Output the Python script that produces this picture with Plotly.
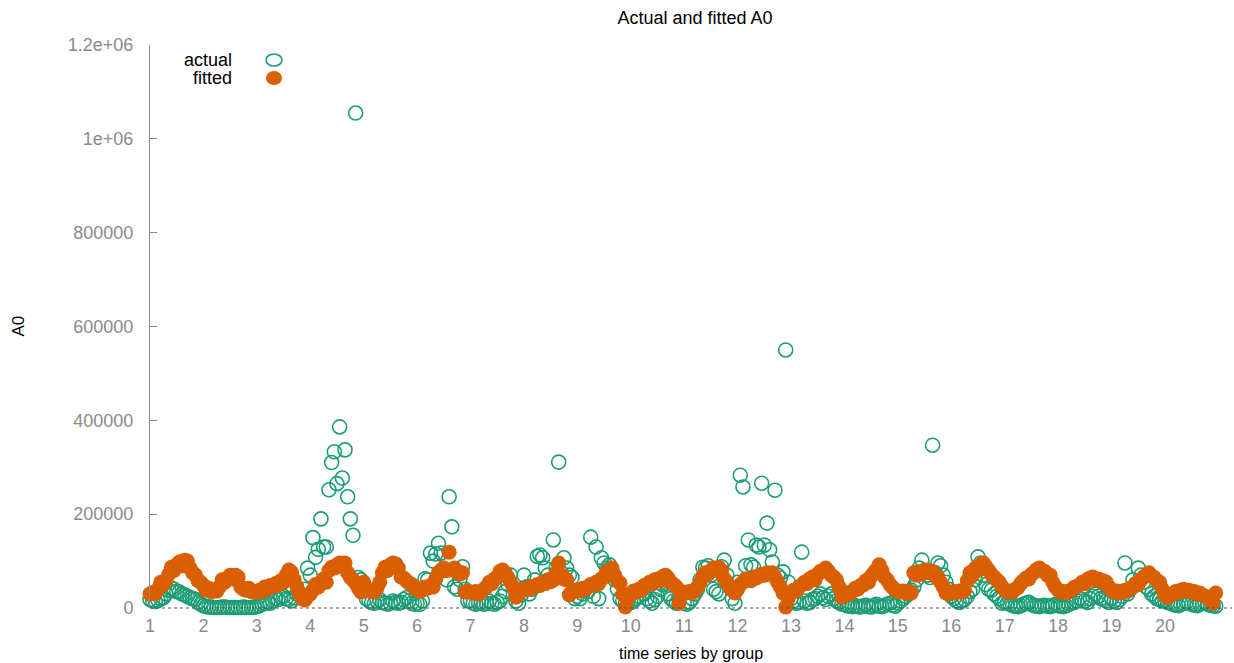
import plotly.graph_objects as go

# ---- data (values in thousands) ----
groups = list(range(1, 21))
points_per_group = 20

actual = [
    [18, 15, 14, 16, 20, 22, 30, 38, 42, 40, 35, 34, 30, 28, 25, 22, 20, 18, 12, 8],
    [5, 3, 2, 2, 1, 1, 1, 2, 2, 1, 1, 1, 1, 1, 1, 2, 1, 1, 1, 2],
    [3, 5, 8, 10, 12, 10, 15, 20, 18, 23, 25, 20, 18, 15, 22, 30, 32, 25, 40, 85],
    [70, 150, 108, 125, 190, 130, 130, 252, 310, 333, 265, 386, 277, 337, 237, 190, 155, 1055, 65, 60],
    [50, 20, 15, 12, 10, 15, 18, 12, 10, 8, 10, 15, 12, 10, 12, 18, 22, 15, 10, 8],
    [10, 8, 15, 62, 60, 117, 100, 115, 138, 117, 80, 60, 237, 173, 45, 40, 60, 88, 40, 15],
    [15, 10, 8, 10, 12, 8, 10, 15, 10, 8, 12, 15, 25, 35, 50, 70, 30, 15, 10, 28],
    [70, 45, 30, 40, 60, 110, 113, 107, 85, 70, 60, 145, 85, 311, 75, 107, 85, 70, 65, 20],
    [25, 20, 30, 40, 35, 151, 25, 130, 20, 107, 96, 85, 92, 70, 60, 40, 20, 15, 10, 12],
    [12, 15, 20, 25, 38, 30, 20, 15, 10, 18, 25, 40, 49, 53, 30, 20, 15, 10, 20, 30],
    [10, 8, 12, 20, 30, 40, 60, 87, 85, 90, 70, 40, 35, 30, 88, 102, 70, 45, 20, 10],
    [55, 283, 258, 90, 145, 92, 87, 134, 130, 266, 134, 181, 124, 98, 251, 70, 64, 77, 550, 55],
    [20, 15, 10, 12, 119, 15, 10, 12, 18, 20, 25, 30, 22, 18, 25, 30, 20, 15, 12, 8],
    [8, 5, 4, 3, 5, 3, 2, 4, 6, 3, 2, 5, 8, 4, 3, 5, 8, 10, 6, 4],
    [10, 15, 20, 25, 30, 38, 45, 60, 85, 102, 80, 70, 65, 347, 75, 96, 90, 70, 55, 40],
    [25, 20, 15, 12, 15, 18, 25, 35, 40, 60, 109, 96, 70, 50, 40, 38, 30, 25, 20, 10],
    [12, 10, 8, 5, 4, 3, 5, 8, 10, 12, 8, 5, 4, 3, 5, 6, 4, 3, 5, 8],
    [5, 4, 3, 5, 8, 10, 12, 15, 20, 18, 15, 12, 20, 25, 30, 25, 20, 18, 15, 12],
    [20, 15, 12, 18, 25, 96, 30, 40, 60, 50, 85, 70, 55, 45, 40, 30, 25, 20, 18, 15],
    [15, 12, 10, 8, 6, 5, 8, 10, 12, 10, 8, 6, 5, 8, 10, 12, 8, 6, 5, 4],
]

fitted = [
    [30, 33, 31, 40, 55, 50, 58, 72, 87, 80, 92, 98, 90, 102, 100, 85, 75, 70, 58, 55],
    [48, 38, 42, 35, 38, 36, 45, 60, 55, 64, 70, 62, 70, 66, 45, 40, 38, 42, 35, 34],
    [34, 38, 35, 45, 42, 48, 46, 52, 49, 58, 55, 70, 81, 76, 60, 45, 30, 20, 17, 25],
    [30, 38, 50, 45, 55, 62, 55, 80, 87, 85, 92, 96, 88, 96, 75, 65, 60, 53, 42, 34],
    [55, 42, 38, 35, 34, 42, 55, 75, 87, 80, 92, 96, 94, 85, 66, 64, 58, 53, 50, 42],
    [40, 36, 38, 45, 42, 48, 45, 62, 75, 81, 85, 80, 119, 81, 85, 78, 72, 75, 34, 36],
    [34, 32, 35, 30, 34, 40, 45, 55, 52, 62, 66, 78, 81, 75, 65, 55, 45, 23, 30, 40],
    [38, 42, 40, 46, 45, 50, 48, 55, 52, 60, 56, 60, 75, 96, 70, 62, 60, 28, 35, 38],
    [38, 36, 42, 40, 45, 50, 48, 55, 52, 62, 66, 78, 80, 85, 70, 58, 53, 30, 2, 20],
    [30, 36, 34, 40, 38, 48, 50, 55, 52, 60, 62, 58, 67, 70, 64, 55, 50, 45, 10, 30],
    [34, 32, 35, 33, 36, 45, 55, 68, 75, 72, 80, 85, 80, 87, 80, 62, 55, 45, 38, 32],
    [40, 50, 55, 62, 60, 58, 66, 64, 68, 72, 70, 75, 72, 75, 65, 55, 45, 32, 2, 20],
    [32, 38, 36, 45, 49, 55, 52, 62, 66, 60, 72, 78, 80, 85, 78, 70, 66, 60, 45, 23],
    [28, 32, 30, 36, 42, 40, 48, 49, 58, 55, 68, 75, 82, 92, 80, 66, 60, 50, 44, 38],
    [36, 34, 36, 32, 35, 32, 75, 70, 78, 72, 80, 81, 75, 78, 68, 66, 55, 45, 32, 30],
    [32, 35, 33, 36, 34, 38, 58, 75, 70, 85, 80, 92, 96, 88, 80, 72, 66, 60, 55, 45],
    [38, 34, 36, 34, 40, 44, 52, 58, 64, 62, 72, 76, 82, 85, 80, 78, 70, 70, 55, 45],
    [38, 34, 35, 32, 36, 38, 44, 46, 49, 55, 52, 61, 64, 66, 60, 62, 56, 58, 55, 45],
    [38, 34, 36, 32, 34, 38, 36, 42, 45, 52, 50, 60, 66, 70, 75, 68, 65, 58, 55, 40],
    [28, 23, 28, 30, 35, 33, 38, 40, 36, 38, 34, 35, 30, 32, 28, 25, 23, 18, 10, 32],
]

y_tickvals = [0, 200, 400, 600, 800, 1000, 1200]
y_ticktext = ["0", "200000", "400000", "600000", "800000", "1e+06", "1.2e+06"]

# ---- build flat series ----
x_idx, y_act, y_fit = [], [], []
for g in range(len(groups)):
    for j in range(points_per_group):
        x_idx.append(g * points_per_group + j + 1)
        y_act.append(actual[g][j])
        y_fit.append(fitted[g][j])
x_tickvals = [g * points_per_group + 1 for g in range(len(groups))]
x_ticktext = [str(g) for g in groups]

TEAL = "#1b9e77"
ORANGE = "#d95f02"
GREY = "#8a8a8a"
FONT = "Liberation Sans, Arial, sans-serif"

fig = go.Figure()
fig.add_trace(go.Scatter(
    x=x_idx, y=y_act, mode="markers", name="actual", cliponaxis=False,
    marker=dict(symbol="circle-open", size=14, color=TEAL, line=dict(width=1.6)),
    showlegend=False,
))
fig.add_trace(go.Scatter(
    x=x_idx, y=y_fit, mode="markers", name="fitted", cliponaxis=False,
    marker=dict(symbol="circle", size=15, color=ORANGE, line=dict(width=0)),
    showlegend=False,
))

L, R, T, B = 150, 2, 45, 55
W, H = 1234, 663
pw, ph = W - L - R, H - T - B

def px_x(p):
    return (p - L) / pw

def px_y(p):
    return (H - B - p) / ph

shapes = [
    dict(type="line", xref="paper", yref="paper", x0=0, x1=1, y0=0, y1=0,
         line=dict(color="#555555", width=1, dash="dot")),
    dict(type="circle", xref="paper", yref="paper", xsizemode="pixel", ysizemode="pixel",
         xanchor=px_x(274), yanchor=px_y(60), x0=-8, x1=8, y0=-6, y1=6,
         line=dict(color=TEAL, width=1.6), fillcolor="rgba(0,0,0,0)"),
    dict(type="circle", xref="paper", yref="paper", xsizemode="pixel", ysizemode="pixel",
         xanchor=px_x(274), yanchor=px_y(78), x0=-8, x1=8, y0=-7, y1=7,
         line=dict(color=ORANGE, width=0), fillcolor=ORANGE),
]

annotations = [
    dict(text="actual", xref="paper", yref="paper", x=px_x(234), y=px_y(60),
         xanchor="right", yanchor="middle", showarrow=False,
         font=dict(family=FONT, size=18, color="#000000")),
    dict(text="fitted", xref="paper", yref="paper", x=px_x(234), y=px_y(78),
         xanchor="right", yanchor="middle", showarrow=False,
         font=dict(family=FONT, size=18, color="#000000")),
    dict(text="A0", xref="paper", yref="paper", x=0, xshift=-132, y=0.5,
         xanchor="center", yanchor="middle", textangle=-90, showarrow=False,
         font=dict(family=FONT, size=17, color="#000000")),
    dict(text="time series by group", xref="paper", yref="paper", x=0.5, y=0, yshift=-45,
         xanchor="center", yanchor="middle", showarrow=False,
         font=dict(family=FONT, size=16, color="#000000")),
]

fig.update_layout(
    width=W, height=H,
    margin=dict(l=L, r=R, t=T, b=B),
    plot_bgcolor="white", paper_bgcolor="white",
    title=dict(text="Actual and fitted A0", x=695 / W, xanchor="center",
               y=1 - 18 / H, yanchor="middle",
               font=dict(family=FONT, size=18, color="#000000")),
    shapes=shapes, annotations=annotations,
    xaxis=dict(range=[1, 406.1], tickvals=x_tickvals, ticktext=x_ticktext,
               showgrid=False, zeroline=False, showline=False, ticks="",
               tickfont=dict(family=FONT, size=18, color=GREY), ticklabelstandoff=5),
    yaxis=dict(range=[0, 1200], tickvals=y_tickvals, ticktext=y_ticktext,
               showgrid=False, zeroline=False, showline=True, linecolor=GREY, linewidth=1,
               ticks="inside", ticklen=7, tickcolor=GREY,
               tickfont=dict(family=FONT, size=18, color=GREY), ticklabelstandoff=12),
)

fig.write_html("out.html", config={"displayModeBar": False},
               post_script="document.body.style.margin='0';")
